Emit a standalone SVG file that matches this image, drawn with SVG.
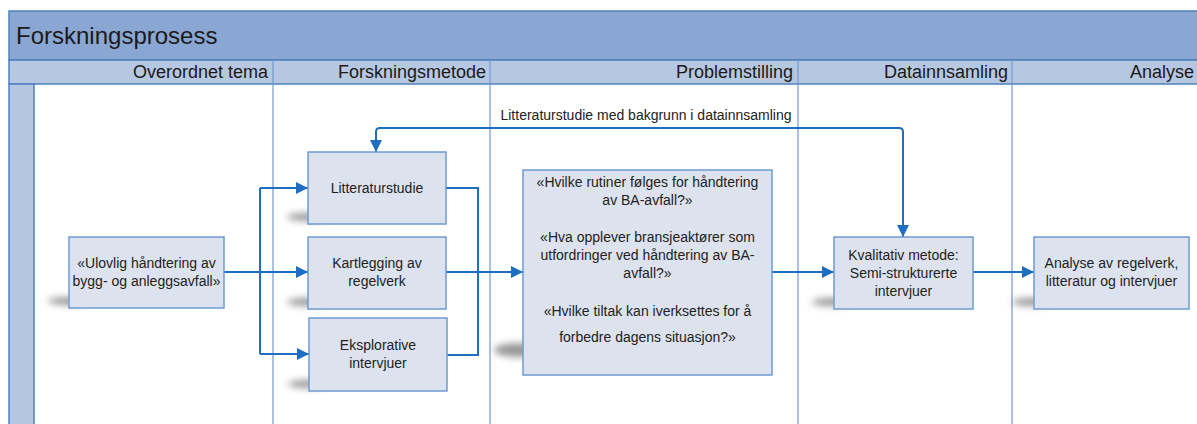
<svg xmlns="http://www.w3.org/2000/svg" width="1197" height="424" viewBox="0 0 1197 424">
<style>
.title{font-family:"Liberation Sans",Arial,sans-serif;font-size:24px;fill:#1a1a1a}
.hdr{font-family:"Liberation Sans",Arial,sans-serif;font-size:18px;fill:#1a1a1a;text-anchor:end}
.lbl{font-family:"Liberation Sans",Arial,sans-serif;font-size:14px;fill:#222;text-anchor:middle}
.box{fill:#DDE3EE;stroke:#6E9BD3;stroke-width:1.5}
.sh{fill:#444;opacity:0.55;filter:url(#blur)}
.con{fill:none;stroke:#1E6FC2;stroke-width:2}
.arr{marker-end:url(#ah)}
.div{stroke:#6F9AD2;stroke-width:1.2}
</style>
<defs>
<marker id="ah" viewBox="0 0 10 10" refX="10" refY="5" markerWidth="12" markerHeight="12" markerUnits="userSpaceOnUse" orient="auto">
<path d="M0,0 L10,5 L0,10 z" fill="#1E6FC2"/>
</marker>
<filter id="blur" x="-50%" y="-200%" width="200%" height="500%"><feGaussianBlur stdDeviation="3.5"/></filter>
</defs>
<rect width="1197" height="424" fill="#ffffff"/>
<g id="pool">
<rect x="9" y="11" width="1200" height="49" fill="#8AA6D3" stroke="#4F81BD" stroke-width="1.5"/>
<text class="title" x="16" y="44">Forskningsprosess</text>
<rect x="9" y="60" width="1200" height="24" fill="#B6C7E1" stroke="#4F81BD" stroke-width="1.5"/>
<rect x="9" y="84" width="25" height="345" fill="#B4C6E1" stroke="#4F81BD" stroke-width="1.5"/>
<line class="div" x1="273" y1="60" x2="273" y2="424"/>
<line class="div" x1="490" y1="60" x2="490" y2="424"/>
<line class="div" x1="798" y1="60" x2="798" y2="424"/>
<line class="div" x1="1012" y1="60" x2="1012" y2="424"/>
<text class="hdr" x="268" y="78">Overordnet tema</text>
<text class="hdr" x="486" y="78">Forskningsmetode</text>
<text class="hdr" x="793" y="78">Problemstilling</text>
<text class="hdr" x="1008" y="78">Datainnsamling</text>
<text class="hdr" x="1194" y="78">Analyse</text>
</g>
<g id="connectors">
<path class="con arr" d="M224,272 H308"/>
<path class="con" d="M260,188 V354"/>
<path class="con arr" d="M260,188 H308"/>
<path class="con arr" d="M260,354 H309"/>
<path class="con" d="M446,188 H478 V355 H447"/>
<path class="con arr" d="M446,272 H523"/>
<path class="con arr" d="M772,272 H834"/>
<path class="con arr" d="M973,272 H1034"/>
<path class="con arr" d="M640,128 H380 Q376,128 376,132 V152"/>
<path class="con arr" d="M640,128 H899 Q903,128 903,132 V237"/>
<text class="lbl" x="646" y="120">Litteraturstudie med bakgrunn i datainnsamling</text>
</g>
<g id="n1">
<ellipse class="sh" cx="68" cy="301" rx="20" ry="4"/>
<rect class="box" x="69" y="237" width="155" height="71"/>
<text class="lbl" x="146.5" y="268">«Ulovlig håndtering av</text>
<text class="lbl" x="146.5" y="286">bygg- og anleggsavfall»</text>
</g>
<g id="n2">
<ellipse class="sh" cx="307" cy="217" rx="20" ry="4"/>
<rect class="box" x="308" y="152" width="138" height="72"/>
<text class="lbl" x="377" y="193">Litteraturstudie</text>
</g>
<g id="n3">
<ellipse class="sh" cx="307" cy="302" rx="20" ry="4"/>
<rect class="box" x="308" y="237" width="138" height="72"/>
<text class="lbl" x="377" y="268">Kartlegging av</text>
<text class="lbl" x="377" y="286">regelverk</text>
</g>
<g id="n4">
<ellipse class="sh" cx="308" cy="384" rx="20" ry="4"/>
<rect class="box" x="309" y="318" width="138" height="73"/>
<text class="lbl" x="378" y="350">Eksplorative</text>
<text class="lbl" x="378" y="368">intervjuer</text>
</g>
<g id="n5">
<ellipse class="sh" cx="518" cy="350" rx="24" ry="7"/>
<rect class="box" x="523" y="170" width="249" height="205"/>
<text class="lbl" x="647.5" y="187">«Hvilke rutiner følges for håndtering</text>
<text class="lbl" x="647.5" y="205">av BA-avfall?»</text>
<text class="lbl" x="647.5" y="242">«Hva opplever bransjeaktører som</text>
<text class="lbl" x="647.5" y="260">utfordringer ved håndtering av BA-</text>
<text class="lbl" x="647.5" y="278">avfall?»</text>
<text class="lbl" x="647.5" y="316">«Hvilke tiltak kan iverksettes for å</text>
<text class="lbl" x="647.5" y="342">forbedre dagens situasjon?»</text>
</g>
<g id="n6">
<ellipse class="sh" cx="832" cy="302" rx="20" ry="4"/>
<rect class="box" x="834" y="237" width="139" height="72"/>
<text class="lbl" x="903.5" y="260">Kvalitativ metode:</text>
<text class="lbl" x="903.5" y="278">Semi-strukturerte</text>
<text class="lbl" x="903.5" y="296">intervjuer</text>
</g>
<g id="n7">
<ellipse class="sh" cx="1032" cy="302" rx="20" ry="4"/>
<rect class="box" x="1034" y="237" width="155" height="72"/>
<text class="lbl" x="1111.5" y="268">Analyse av regelverk,</text>
<text class="lbl" x="1111.5" y="286">litteratur og intervjuer</text>
</g>
</svg>
